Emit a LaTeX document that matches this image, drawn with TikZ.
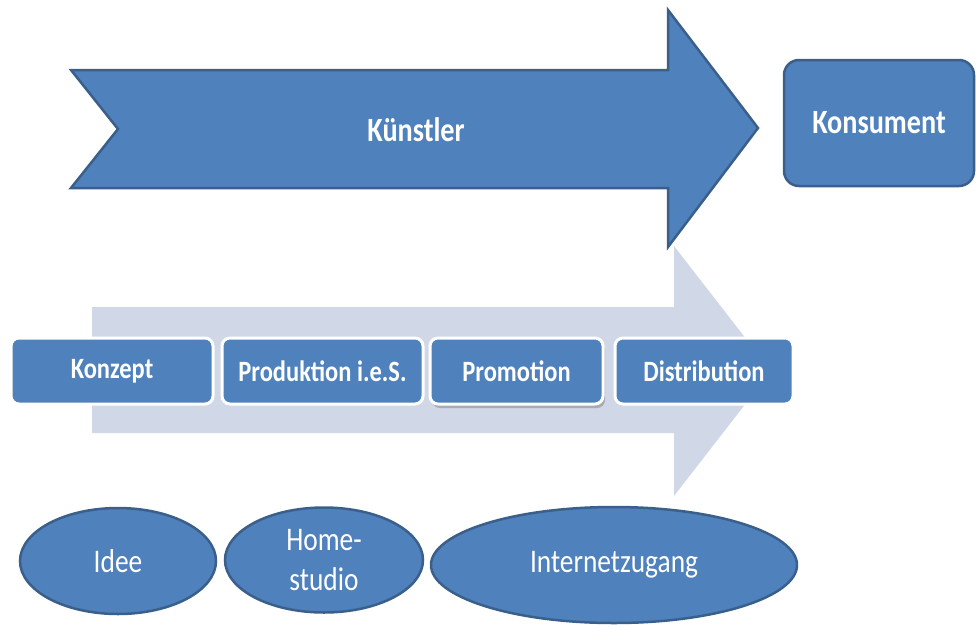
\documentclass[tikz,border=0pt]{standalone}
\usepackage{fontspec}
\setmainfont{Carlito}[FakeStretch=0.83]
\usetikzlibrary{shapes.geometric,shadows}
\definecolor{accent}{HTML}{4F81BD}
\definecolor{accentdark}{HTML}{3A5F8B}
\definecolor{pale}{HTML}{D0D8E8}
\tikzset{
  bluefill/.style={fill=accent, draw=accentdark, line width=2.5pt},
  toplabel/.style={text=white, font=\fontsize{34}{40}\selectfont\bfseries},
  phasebox/.style={fill=accent, draw=white, line width=3pt, rounded corners=8pt,
    minimum height=66pt, inner sep=0pt, text=white,
    font=\fontsize{29.5}{34}\selectfont\bfseries},
  toolblob/.style={ellipse, bluefill, inner sep=0pt, text=white, align=center,
    font=\fontsize{33}{40}\selectfont}
}

\begin{document}
\begin{tikzpicture}[x=1pt, y=-1pt]
  \useasboundingbox (0,0) rectangle (976,624);

  % pale arrow behind the phases
  \fill[pale] (92,307) -- (674,307) -- (674,246) -- (771,371)
     -- (674,496) -- (674,433) -- (92,433) -- cycle;

  % big arrow
  \draw[bluefill, line join=miter] (71,70) -- (668,70) -- (668,10) -- (758,128)
     -- (668,247) -- (668,188) -- (71,188) -- (118,129) -- cycle;
  \node[toplabel] (kuenstler) at (416,130) {Künstler};

  \node[bluefill, rounded corners=15pt, minimum width=190pt, minimum height=126pt,
     toplabel] (konsument) at (879,123) {Konsument};

  % phases
  \node[phasebox, minimum width=202pt] (konzept) at (112,371) {Konzept};
  \node[phasebox, minimum width=201pt] (produktion) at (322.5,371) {Produktion i.e.S.};
  \node[phasebox, minimum width=173pt,
     drop shadow={opacity=0.5, shadow xshift=2pt, shadow yshift=-4pt}]
     (promotion) at (516.5,371) {Promotion};
  \node[phasebox, minimum width=178pt] (distribution) at (704,371) {Distribution};

  % tools
  \node[toolblob, minimum width=196pt, minimum height=106pt] (idee) at (118,561) {Idee};
  \node[toolblob, minimum width=198pt, minimum height=105pt] (homestudio) at (324,560)
     {Home-\\studio};
  \node[toolblob, minimum width=366pt, minimum height=116pt] (internet) at (614,565)
     {Internetzugang};
\end{tikzpicture}
\end{document}
